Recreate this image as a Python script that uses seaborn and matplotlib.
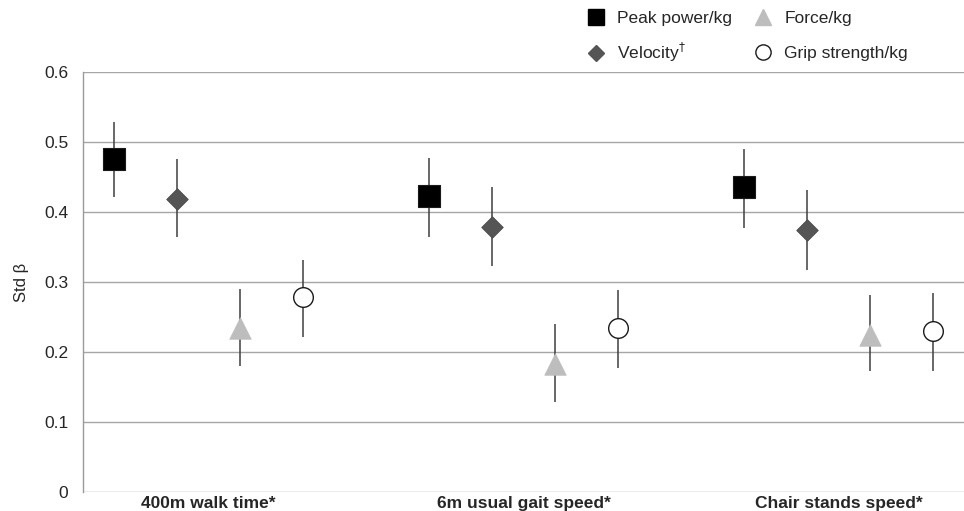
import numpy as np
import pandas as pd
import seaborn as sns
import matplotlib.pyplot as plt
from matplotlib.lines import Line2D

categories = ['400m walk time*', '6m usual gait speed*', 'Chair stands speed*']
measures = ['Peak power/kg', 'Velocity$^{\\dagger}$', 'Force/kg', 'Grip strength/kg']

peak = [0.475, 0.423, 0.435]
peak_lo = [0.421, 0.364, 0.377]
peak_hi = [0.529, 0.477, 0.490]

velocity = [0.418, 0.379, 0.374]
velocity_lo = [0.364, 0.323, 0.317]
velocity_hi = [0.475, 0.435, 0.432]

force = [0.234, 0.183, 0.224]
force_lo = [0.180, 0.129, 0.173]
force_hi = [0.290, 0.240, 0.282]

grip = [0.279, 0.235, 0.230]
grip_lo = [0.222, 0.177, 0.173]
grip_hi = [0.332, 0.288, 0.284]

yticks = [0, 0.1, 0.2, 0.3, 0.4, 0.5, 0.6]

rows = []
for m, est, lo, hi in zip(measures,
                          [peak, velocity, force, grip],
                          [peak_lo, velocity_lo, force_lo, grip_lo],
                          [peak_hi, velocity_hi, force_hi, grip_hi]):
    for i, c in enumerate(categories):
        rows.append({'measure': m, 'outcome': c, 'idx': i, 'beta': est[i], 'lo': lo[i], 'hi': hi[i]})
df = pd.DataFrame(rows)

sns.set_style('white')
plt.rcParams['font.family'] = ['Liberation Sans', 'DejaVu Sans']
plt.rcParams['mathtext.fontset'] = 'dejavusans'

# marker look for each series
styles = {
    'Peak power/kg': dict(marker='s', s=235, color='#000000', edgecolor='#1a1a1a', linewidth=0.8),
    'Velocity$^{\\dagger}$': dict(marker='D', s=120, color='#555555', edgecolor='#4a4a4a', linewidth=0.6),
    'Force/kg': dict(marker='^', s=240, color='#bdbdbd', edgecolor='#bdbdbd', linewidth=0.5),
    'Grip strength/kg': dict(marker='o', s=200, color='white', edgecolor='#1a1a1a', linewidth=1.0),
}
offsets = dict(zip(measures, [-0.3, -0.1, 0.1, 0.3]))

fig = plt.figure(figsize=(9.64, 5.11), dpi=100)
ax = fig.add_axes([83 / 964, 19 / 511, 881 / 964, 420 / 511])

for m in measures:
    sub = df[df['measure'] == m].copy()
    sub['x'] = sub['idx'] + offsets[m]
    ax.vlines(sub['x'], sub['lo'], sub['hi'], color='#3f3f3f', linewidth=1.1, zorder=2)
    st = styles[m]
    sns.scatterplot(data=sub, x='x', y='beta', marker=st['marker'], s=st['s'], color=st['color'],
                    edgecolor=st['edgecolor'], linewidth=st['linewidth'], zorder=3, ax=ax, legend=False)

ax.set_xlim(-0.397, 2.397)
ax.set_ylim(0, 0.6)
ax.set_yticks(yticks)
ax.set_yticklabels([f'{t:g}' for t in yticks], fontsize=12.5)
ax.set_xticks(range(len(categories)))
ax.set_xticklabels(categories, fontsize=12.5, fontweight='bold')
ax.tick_params(axis='x', length=0, pad=3)
ax.tick_params(axis='y', length=3.6, width=1, color='#9a9a9a', pad=7)
ax.set_xlabel('')
ax.set_ylabel('Std β', fontsize=12, labelpad=11)

ax.yaxis.grid(True, color='#a6a6a6', linewidth=1.0, zorder=0)
ax.set_axisbelow(True)
for side in ['top', 'right', 'bottom']:
    ax.spines[side].set_visible(False)
ax.spines['left'].set_color('#9a9a9a')
ax.spines['left'].set_linewidth(1.0)

handles = [
    Line2D([], [], linestyle='none', marker='s', markersize=11, markerfacecolor='#000000', markeredgecolor='#000000'),
    Line2D([], [], linestyle='none', marker='D', markersize=8, markerfacecolor='#555555', markeredgecolor='#555555'),
    Line2D([], [], linestyle='none', marker='^', markersize=12, markerfacecolor='#bdbdbd', markeredgecolor='#bdbdbd'),
    Line2D([], [], linestyle='none', marker='o', markersize=11, markerfacecolor='white', markeredgecolor='#1a1a1a'),
]
# one small legend per entry so both rows sit on the same baseline
legend_pos = [(586, 26), (586, 64), (753, 26), (753, 61)]
for h, lab, (px, py) in zip(handles, measures, legend_pos):
    leg = fig.legend([h], [lab], loc='lower left', bbox_to_anchor=(px / 964, 1 - py / 511),
                     frameon=False, fontsize=12.5, handlelength=1.2, handletextpad=0.6,
                     borderpad=0, borderaxespad=0)

fig.savefig('out.png', dpi=100)
